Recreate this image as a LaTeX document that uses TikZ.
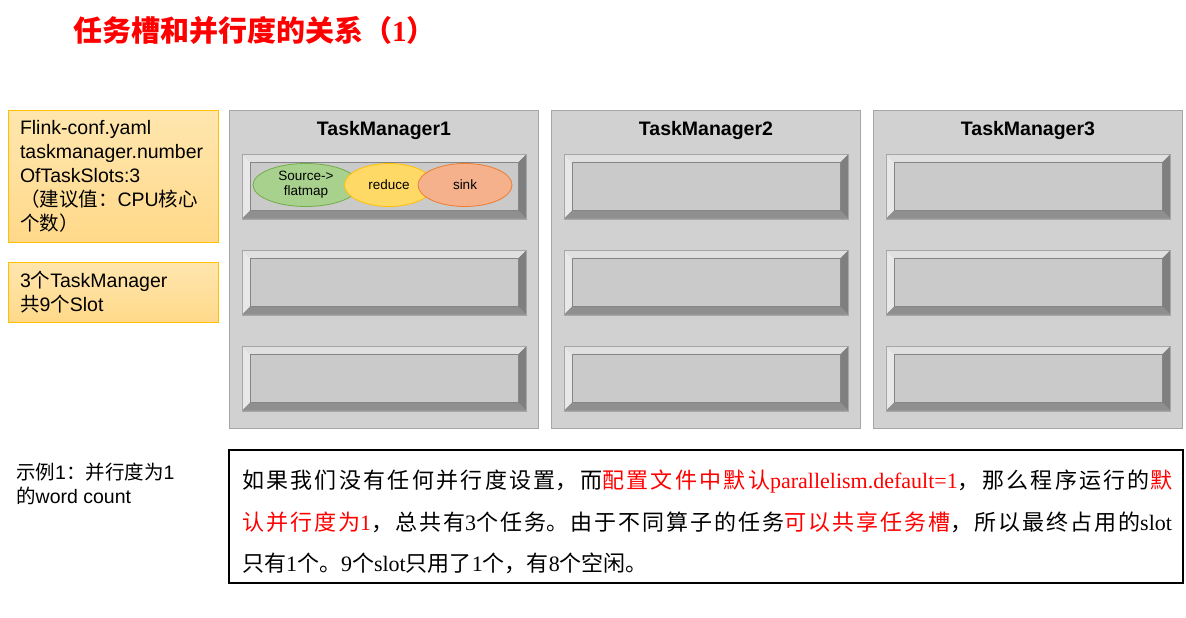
\documentclass[tikz,border=0pt]{standalone}
\usepackage{fontspec}
\setmainfont{Liberation Sans}
\newfontfamily\cjk{Noto Sans CJK SC}
\newfontfamily\tnr{Liberation Serif}
\usetikzlibrary{positioning,shapes.geometric}

\definecolor{tmgray}{HTML}{D1D1D1}
\definecolor{tmline}{HTML}{A6A6A6}
\definecolor{slotface}{HTML}{CACACA}
\definecolor{bvtop}{HTML}{E0E0E0}
\definecolor{bvleft}{HTML}{E8E8E8}
\definecolor{bvright}{HTML}{7F7F7F}
\definecolor{bvbot}{HTML}{8F8F8F}
\definecolor{gold}{HTML}{FFC000}
\definecolor{notetop}{HTML}{FFE6AE}
\definecolor{notebot}{HTML}{FFD98A}
\definecolor{srcfill}{HTML}{A9D18E}
\definecolor{srcline}{HTML}{70AD47}
\definecolor{redfill}{HTML}{FFD966}
\definecolor{sinkfill}{HTML}{F4B18C}
\definecolor{sinkline}{HTML}{ED7D31}

% bevel around a slot node
\newcommand{\bevel}[1]{%
  \fill[bvtop] (#1.north west) -- (#1.north east) -- ([shift={(-8,8)}]#1.north east) -- ([shift={(8,8)}]#1.north west) -- cycle;
  \fill[bvleft] (#1.north west) -- ([shift={(8,8)}]#1.north west) -- ([shift={(8,-8)}]#1.south west) -- (#1.south west) -- cycle;
  \fill[bvright] (#1.north east) -- ([shift={(-8,8)}]#1.north east) -- ([shift={(-8,-8)}]#1.south east) -- (#1.south east) -- cycle;
  \fill[bvbot] (#1.south west) -- ([shift={(8,-8)}]#1.south west) -- ([shift={(-8,-8)}]#1.south east) -- (#1.south east) -- cycle;
  \draw[tmline!80!black, line width=0.6pt] ([shift={(8,8)}]#1.north west) rectangle ([shift={(-8,-8)}]#1.south east);
  \draw[tmline] (#1.north west) rectangle (#1.south east);
}

\tikzset{
  tmbox/.style={draw=tmline, fill=tmgray, minimum width=309pt, minimum height=318pt, inner sep=0pt},
  tmtitle/.style={anchor=base, inner sep=0pt, font=\bfseries\fontsize{19.5}{19.5}\selectfont},
  slotbox/.style={draw=tmline, fill=slotface, minimum width=284pt, minimum height=64pt, inner sep=0pt},
  notebox/.style={draw=gold, line width=0.8pt, top color=notetop, bottom color=notebot, text width=186pt, inner xsep=12pt, inner ysep=0pt, align=left, font=\fontsize{19.5}{24}\selectfont},
  task/.style={ellipse, minimum height=43pt, inner sep=0pt, line width=0.8pt, align=center, font=\fontsize{13.5}{15}\selectfont},
}

\begin{document}
\begin{tikzpicture}[x=1pt, y=-1pt]
  \useasboundingbox (0,0) rectangle (1186,618);
  \fill[white] (0,0) rectangle (1186,618);

  \node[anchor=west, text=red, inner sep=0pt, font=\cjk\bfseries\fontsize{29}{29}\selectfont] (title) at (73,30) {任务槽和并行度的关系（{\tnr\bfseries 1}）};

  \node[notebox, minimum height=132pt] (conf) at (113,176) {Flink-conf.yaml\\taskmanager.number\\OfTaskSlots:3\\{\cjk （建议值：}CPU{\cjk 核心}\\{\cjk 个数）}};
  \node[notebox, minimum height=60pt] (slots) at (113,292) {3{\cjk 个}TaskManager\\{\cjk 共}9{\cjk 个}Slot};

  \foreach \i/\cx in {1/384,2/706,3/1028} {
    \node[tmbox] (tm\i) at (\cx,269) {};
    \node[tmtitle] (tmt\i) at (\cx,135) {TaskManager\i};
    \foreach \j in {1,2,3} {
      \node[slotbox] (slot\i\j) at (\cx,{90.5+96*\j}) {};
      \bevel{slot\i\j}
    }
  }

  \node[task, fill=srcfill, draw=srcline, minimum width=106pt] (src) at (306,185) {Source->\\flatmap};
  \node[task, fill=redfill, draw=gold, minimum width=89pt] (red) at (389,185) {reduce};
  \node[task, fill=sinkfill, draw=sinkline, minimum width=94pt] (sink) at (465,185) {sink};

  \node[anchor=north west, inner sep=0pt, align=left, font=\fontsize{19.5}{24}\selectfont] (example) at (16,463) {{\cjk 示例}1{\cjk ：并行度为}1\\{\cjk 的}word count};

  \node[draw, line width=2pt, minimum width=954pt, minimum height=133pt, inner sep=0pt] (desc) at (706,516.5) {};
  \node[text width=930pt, align=justify, inner sep=0pt, font=\cjk\fontsize{22}{41.5}\selectfont] (desctext) at (707,522) {\XeTeXlinebreaklocale "zh"\XeTeXlinebreakskip=0pt plus 3pt\relax 如果我们没有任何并行度设置，而\textcolor{red}{配置文件中默认{\tnr parallelism.default=1}}，那么程序运行的\textcolor{red}{默}\linebreak\textcolor{red}{认并行度为{\tnr 1}}，总共有{\tnr 3}个任务。由于不同算子的任务\textcolor{red}{可以共享任务槽}，所以最终占用的{\tnr slot}\linebreak 只有{\tnr 1}个。{\tnr 9}个{\tnr slot}只用了{\tnr 1}个，有{\tnr 8}个空闲。};
\end{tikzpicture}
\end{document}
